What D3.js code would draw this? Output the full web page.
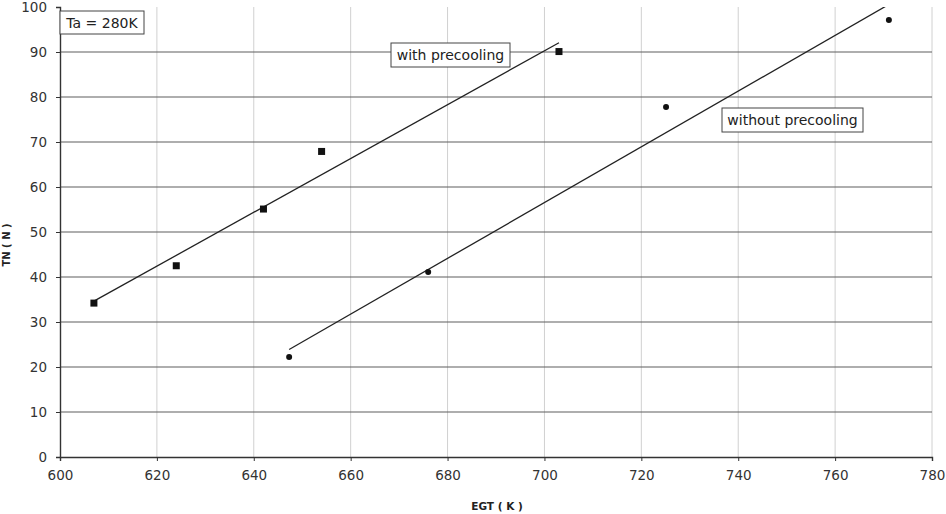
<!DOCTYPE html>
<html><head><meta charset="utf-8">
<script src="https://cdn.jsdelivr.net/npm/d3@7"></script>
<style>body{margin:0;background:#fff}svg{display:block}</style>
</head><body>
<svg id="c" width="946" height="514"></svg>
<script>
const withX = [607, 624, 642, 654, 703];
const withY = [34.2, 42.5, 55.1, 67.9, 90.1];
const withoutX = [647.3, 676, 725.1, 771.1];
const withoutY = [22.2, 41.1, 77.8, 97.1];
const xTicks = [600, 620, 640, 660, 680, 700, 720, 740, 760, 780];
const yTicks = [0, 10, 20, 30, 40, 50, 60, 70, 80, 90, 100];

const svg = d3.select("#c");
const x = d3.scaleLinear().domain([600, 780]).range([60, 932]);
const y = d3.scaleLinear().domain([0, 100]).range([457, 7]);
const font = "'DejaVu Sans', Verdana, sans-serif";

// vertical grid (light)
svg.append("g").selectAll("line").data(xTicks.slice(1)).join("line")
  .attr("x1", d => x(d)).attr("x2", d => x(d)).attr("y1", y(100)).attr("y2", y(0))
  .attr("stroke", "#d0d0d0").attr("stroke-width", 1);
// horizontal grid (dark)
svg.append("g").selectAll("line").data(yTicks.slice(1, -1)).join("line")
  .attr("x1", x(600)).attr("x2", x(780)).attr("y1", d => y(d)).attr("y2", d => y(d))
  .attr("stroke", "#5e5e5e").attr("stroke-width", 1.2);

const xAxis = svg.append("g").attr("transform", `translate(0,${y(0)})`)
  .call(d3.axisBottom(x).tickValues(xTicks).tickSize(4).tickPadding(9));
const yAxis = svg.append("g").attr("transform", `translate(${x(600)},0)`)
  .call(d3.axisLeft(y).tickValues(yTicks).tickSize(4).tickPadding(9));
[xAxis, yAxis].forEach(a => {
  a.select(".domain").attr("stroke", "#333").attr("stroke-width", 1.4);
  a.selectAll(".tick line").attr("stroke", "#333");
  a.selectAll("text").attr("font-family", font).attr("font-size", 13.5).attr("fill", "#333");
});

function reg(xs, ys) {
  const mx = d3.mean(xs), my = d3.mean(ys);
  let sxy = 0, sxx = 0;
  xs.forEach((v, i) => { sxy += (v - mx) * (ys[i] - my); sxx += (v - mx) * (v - mx); });
  const b = sxy / sxx, a = my - b * mx;
  return v => a + b * v;
}
svg.append("clipPath").attr("id", "pc").append("rect")
  .attr("x", x(600)).attr("y", y(100)).attr("width", x(780) - x(600)).attr("height", y(0) - y(100));

function trend(xs, ys) {
  const f = reg(xs, ys);
  const x0 = d3.min(xs), x1 = d3.max(xs);
  svg.append("line").attr("clip-path", "url(#pc)")
    .attr("x1", x(x0)).attr("y1", y(f(x0))).attr("x2", x(x1)).attr("y2", y(f(x1)))
    .attr("stroke", "#222").attr("stroke-width", 1.3);
}
trend(withX, withY);
trend(withoutX, withoutY);

svg.append("g").selectAll("rect").data(withX).join("rect")
  .attr("x", (d) => x(d) - 3.5).attr("y", (d, i) => y(withY[i]) - 3.5)
  .attr("width", 7).attr("height", 7).attr("fill", "#111");
svg.append("g").selectAll("circle").data(withoutX).join("circle")
  .attr("cx", d => x(d)).attr("cy", (d, i) => y(withoutY[i])).attr("r", 3).attr("fill", "#111");

function label(txt, x0, y0, w, h) {
  svg.append("rect").attr("x", x0).attr("y", y0).attr("width", w).attr("height", h)
    .attr("fill", "#fff").attr("stroke", "#444").attr("stroke-width", 1);
  svg.append("text").attr("x", x0 + w / 2).attr("y", y0 + h / 2 + 5).attr("text-anchor", "middle")
    .attr("font-family", font).attr("font-size", 14).attr("fill", "#222").text(txt);
}
label("Ta = 280K", 60, 11, 84, 23);
label("with precooling", 391, 43, 119, 24);
label("without precooling", 722, 108, 141, 24);

svg.append("text").attr("x", 497).attr("y", 510).attr("text-anchor", "middle")
  .attr("font-family", font).attr("font-size", 10.5).attr("font-weight", "bold").attr("fill", "#222")
  .text("EGT ( K )");
svg.append("text").attr("transform", "translate(10,245) rotate(-90)").attr("text-anchor", "middle")
  .attr("font-family", font).attr("font-size", 10).attr("font-weight", "bold").attr("fill", "#222")
  .text("TN ( N )");
</script>
</body></html>
